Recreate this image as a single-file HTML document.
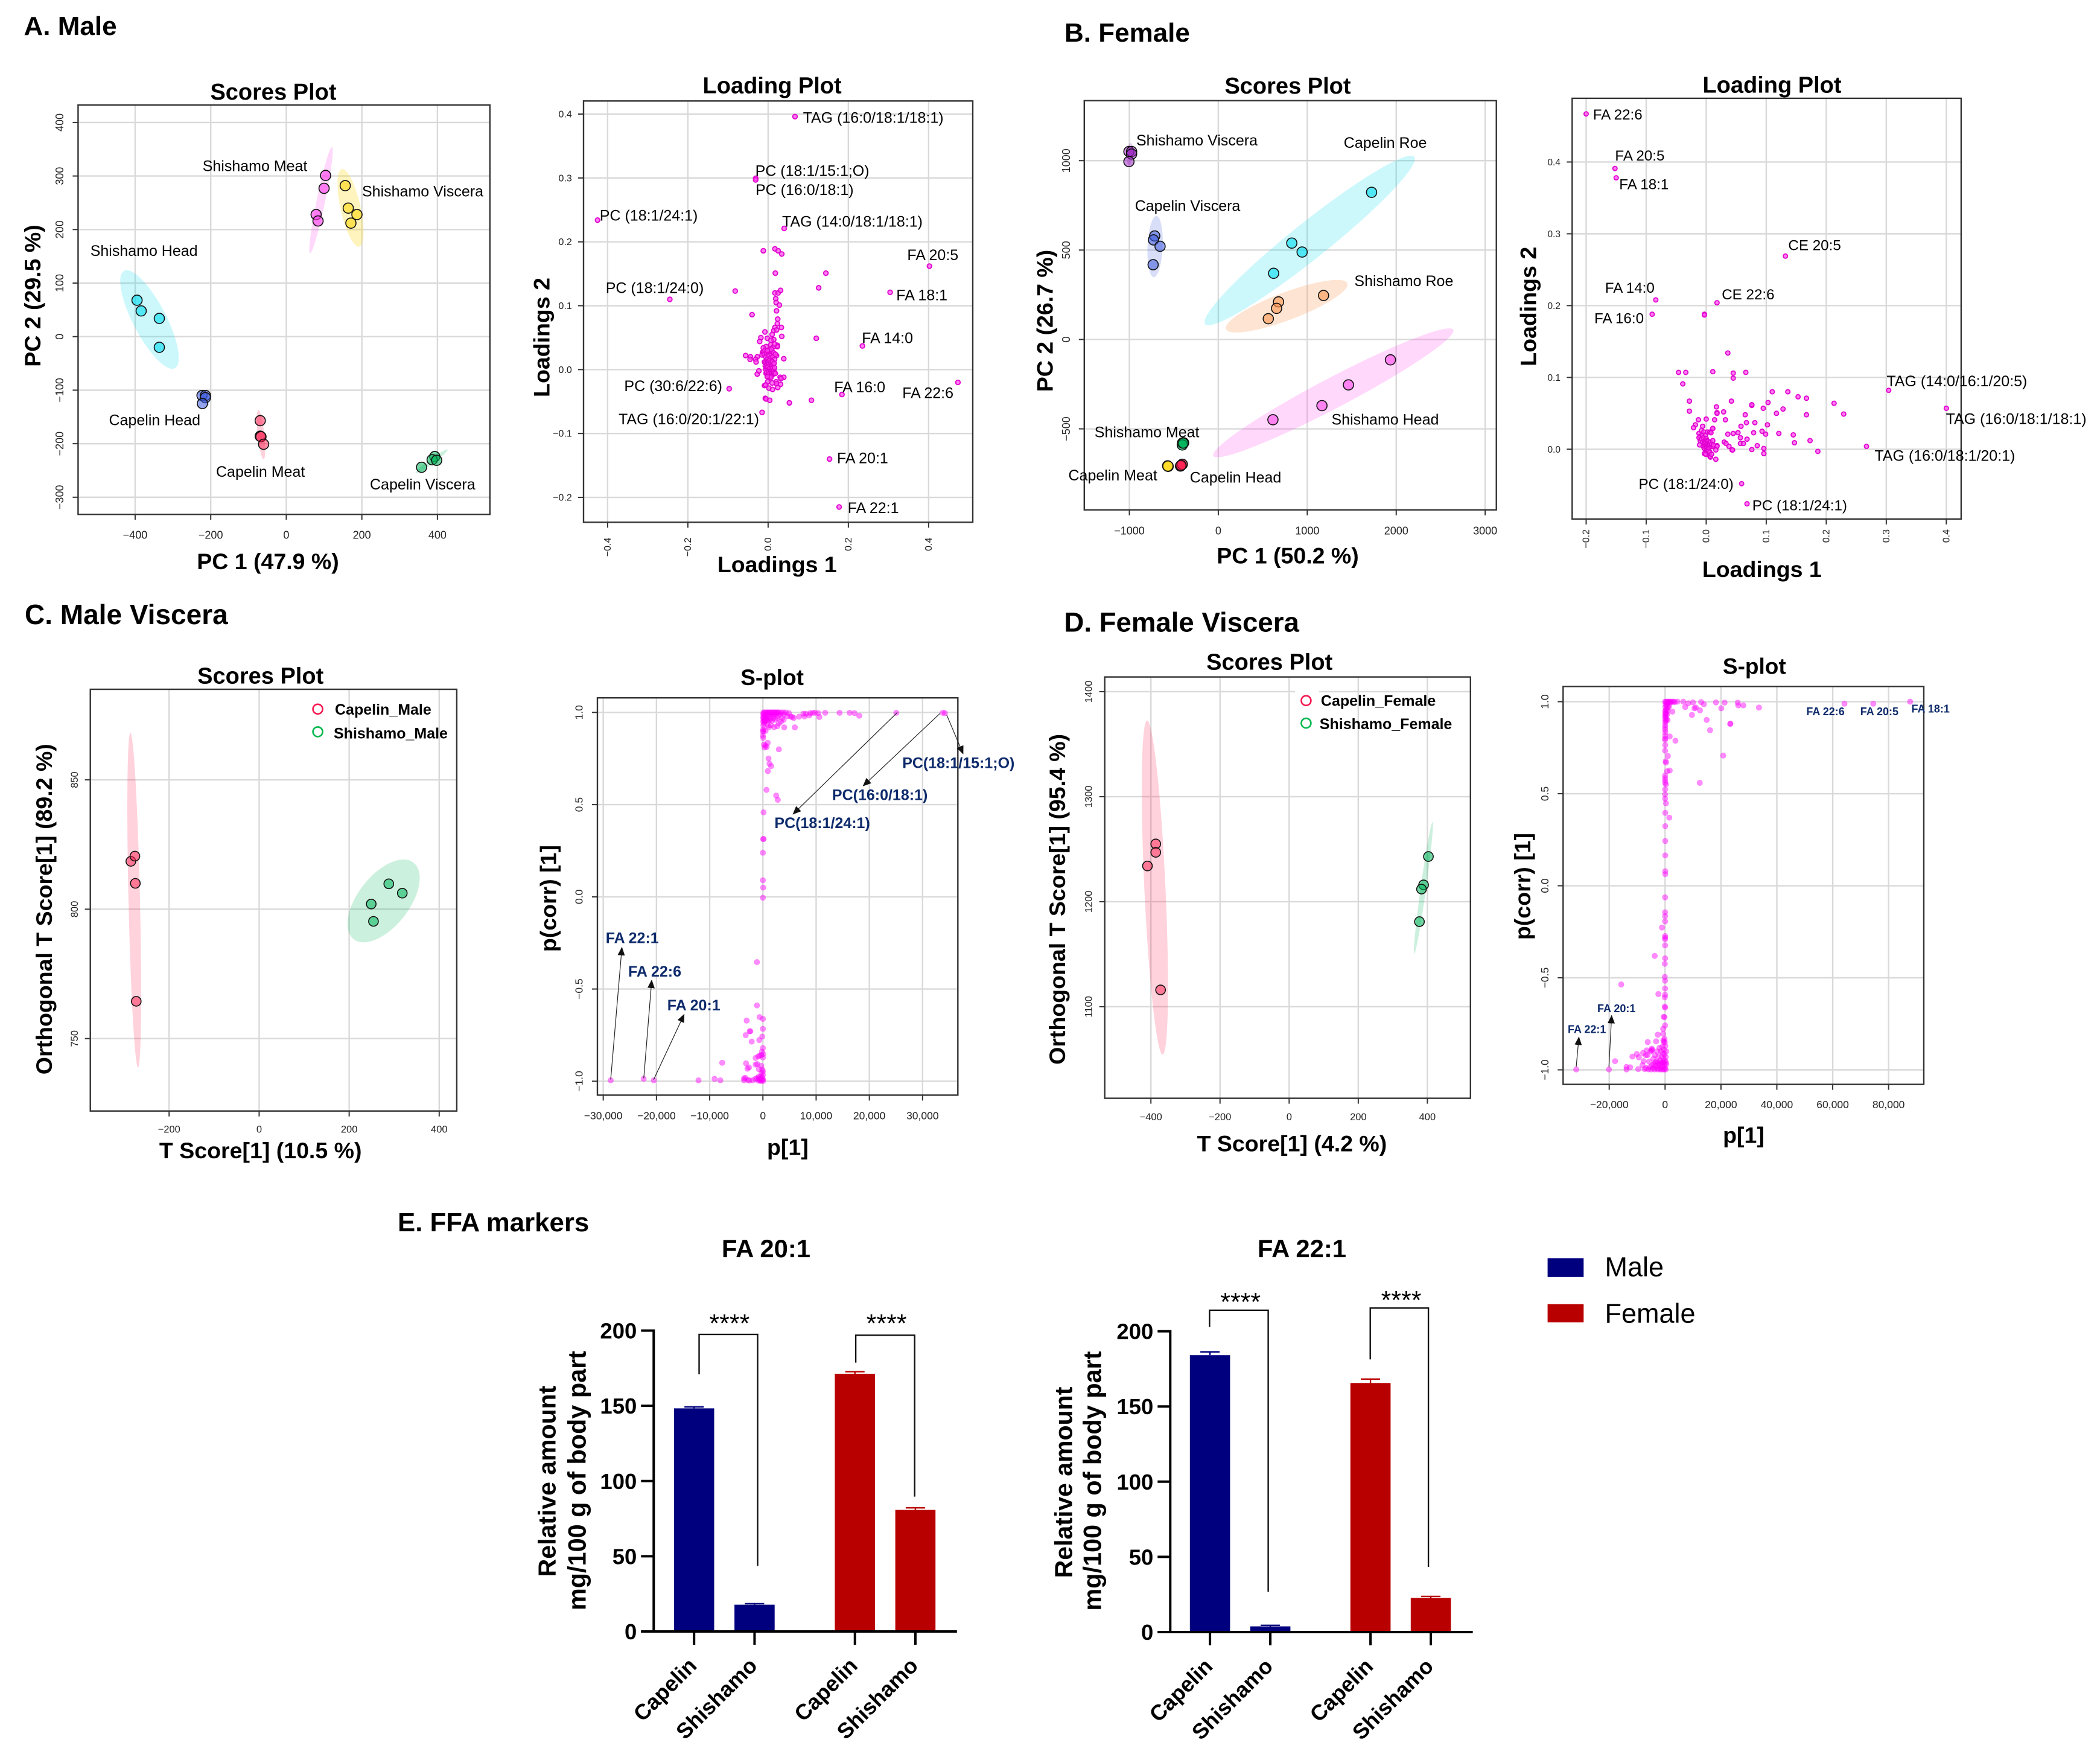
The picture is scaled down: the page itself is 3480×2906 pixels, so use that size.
<!DOCTYPE html>
<html lang="en">
<head>
<meta charset="utf-8">
<title>Lipidomics multivariate analysis of capelin and shishamo</title>
<style>
html,body{margin:0;padding:0;background:#fff;}
svg{display:block;font-family:"Liberation Sans",sans-serif;}
.panel{font-size:44px;font-weight:700;}
.title{font-size:38px;font-weight:700;text-anchor:middle;}
.axis{font-size:37.5px;font-weight:700;text-anchor:middle;}
.lab{font-size:25px;}
.labf{font-size:24.2px;}
.legend{font-size:25px;font-weight:700;}
.call{font-size:25px;font-weight:700;fill:#0d2a6b;}
.calls{font-size:18px;font-weight:700;fill:#0d2a6b;}
.arrow{stroke:#222;stroke-width:1.2;fill:none;marker-end:url(#arrowhead);}
.bracket{fill:none;stroke:#111;stroke-width:2.4;}
.stars{font-size:43px;text-anchor:middle;}
.ylab{font-size:41px;font-weight:700;text-anchor:middle;}
.btitle{font-size:41.8px;font-weight:700;text-anchor:middle;}
.bleg{font-size:45px;}
</style>
</head>
<body>
<svg id="figure" xmlns="http://www.w3.org/2000/svg" width="3480" height="2906" viewBox="0 0 3480 2906">
<defs>
<marker id="arrowhead" markerWidth="14" markerHeight="12" refX="13" refY="6" orient="auto" markerUnits="userSpaceOnUse"><path d="M0,0 L14,6 L0,12 Z" fill="#111"/></marker>
</defs>
<rect x="0" y="0" width="3480" height="2906" fill="#fff"/>
<g id="marks"></g>

<g>
<text class="panel" x="39.5" y="58">A. Male</text>
<text class="title" x="453" y="165">Scores Plot</text>
<text class="axis" x="444" y="943">PC 1 (47.9 %)</text>
<text class="axis" transform="translate(67,490) rotate(-90)">PC 2 (29.5 %)</text>
<text class="lab" x="335.7" y="283.5">Shishamo Meat</text>
<text class="lab" x="600" y="325.7">Shishamo Viscera</text>
<text class="lab" x="149.7" y="424">Shishamo Head</text>
<text class="lab" x="180.5" y="704.6">Capelin Head</text>
<text class="lab" x="358" y="790">Capelin Meat</text>
<text class="lab" x="613" y="811">Capelin Viscera</text>

<text class="title" x="1279.6" y="154.7">Loading Plot</text>
<text class="axis" x="1287.8" y="948">Loadings 1</text>
<text class="axis" transform="translate(910.5,559) rotate(-90)">Loadings 2</text>
<text class="lab" x="1330.6" y="203.5">TAG (16:0/18:1/18:1)</text>
<text class="lab" x="1251.6" y="291.3">PC (18:1/15:1;O)</text>
<text class="lab" x="1252" y="323">PC (16:0/18:1)</text>
<text class="lab" x="993.8" y="365.4">PC (18:1/24:1)</text>
<text class="lab" x="1296" y="375.7">TAG (14:0/18:1/18:1)</text>
<text class="lab" x="1503.4" y="430.8">FA 20:5</text>
<text class="lab" x="1003.7" y="485.3">PC (18:1/24:0)</text>
<text class="lab" x="1485.3" y="497.4">FA 18:1</text>
<text class="lab" x="1428.2" y="568.6">FA 14:0</text>
<text class="lab" x="1034.4" y="647.8">PC (30:6/22:6)</text>
<text class="lab" x="1382.2" y="650">FA 16:0</text>
<text class="lab" x="1495.2" y="659.3">FA 22:6</text>
<text class="lab" x="1025" y="702.9">TAG (16:0/20:1/22:1)</text>
<text class="lab" x="1387" y="767.7">FA 20:1</text>
<text class="lab" x="1404.7" y="849.8">FA 22:1</text>
</g>

<g>
<text class="panel" x="1764" y="69">B. Female</text>
<text class="title" x="2134" y="154.9">Scores Plot</text>
<text class="axis" x="2134" y="933.6">PC 1 (50.2 %)</text>
<text class="axis" transform="translate(1744.7,531.5) rotate(-90)">PC 2 (26.7 %)</text>
<text class="lab" x="1883" y="240.9">Shishamo Viscera</text>
<text class="lab" x="2226.8" y="245">Capelin Roe</text>
<text class="lab" x="1880.7" y="349.4">Capelin Viscera</text>
<text class="lab" x="2244.4" y="474">Shishamo Roe</text>
<text class="lab" x="2206.5" y="703.5">Shishamo Head</text>
<text class="lab" x="1813.8" y="724.3">Shishamo Meat</text>
<text class="lab" x="1770.5" y="796">Capelin Meat</text>
<text class="lab" x="1971.8" y="799.6">Capelin Head</text>

<text class="title" x="2936.5" y="153.3">Loading Plot</text>
<text class="axis" x="2919.8" y="955.8">Loadings 1</text>
<text class="axis" transform="translate(2545.5,507.8) rotate(-90)">Loadings 2</text>
<text class="labf" x="2639.7" y="198.2">FA 22:6</text>
<text class="labf" x="2676.4" y="266.1">FA 20:5</text>
<text class="labf" x="2683.3" y="313.3">FA 18:1</text>
<text class="labf" x="2963.4" y="414.3">CE 20:5</text>
<text class="labf" x="2659.8" y="485">FA 14:0</text>
<text class="labf" x="2853.2" y="496.2">CE 22:6</text>
<text class="labf" x="2642" y="535.5">FA 16:0</text>
<text class="lab" x="3126.4" y="639.9">TAG (14:0/16:1/20:5)</text>
<text class="lab" x="3224.6" y="702.7">TAG (16:0/18:1/18:1)</text>
<text class="lab" x="3106.4" y="763.3">TAG (16:0/18:1/20:1)</text>
<text class="labf" x="2715.5" y="809.9">PC (18:1/24:0)</text>
<text class="labf" x="2903.7" y="845.3">PC (18:1/24:1)</text>
</g>

<g>
<text class="panel" style="font-size:46px" x="41" y="1034">C. Male Viscera</text>
<text class="title" x="431.7" y="1132.4">Scores Plot</text>
<text class="axis" x="431.7" y="1918.8">T Score[1] (10.5 %)</text>
<text class="axis" transform="translate(86,1506.2) rotate(-90)">Orthogonal T Score[1] (89.2 %)</text>
<circle cx="526.6" cy="1174.8" r="8" fill="none" stroke="#f5174f" stroke-width="2.6"/>
<circle cx="526.6" cy="1212.4" r="8" fill="none" stroke="#00b84f" stroke-width="2.6"/>
<text class="legend" x="555" y="1183.9">Capelin_Male</text>
<text class="legend" x="553" y="1223.3">Shishamo_Male</text>

<text class="title" style="font-size:37px" x="1279.6" y="1134.9">S-plot</text>
<text class="axis" x="1305.4" y="1913.7">p[1]</text>
<text class="axis" transform="translate(921.4,1488.6) rotate(-90)">p(corr) [1]</text>
<line class="arrow" x1="1487" y1="1180.4" x2="1314.2" y2="1348.8"/>
<line class="arrow" x1="1557.7" y1="1182" x2="1430.4" y2="1302.1"/>
<line class="arrow" x1="1568.7" y1="1184.2" x2="1596" y2="1249"/>
<line class="arrow" x1="1012" y1="1788.7" x2="1030.6" y2="1569.8"/>
<line class="arrow" x1="1066.8" y1="1786.5" x2="1080" y2="1624"/>
<line class="arrow" x1="1083.2" y1="1788.7" x2="1133.7" y2="1680.6"/>
<text class="call" x="1495.2" y="1272.5">PC(18:1/15:1;O)</text>
<text class="call" x="1378.9" y="1325.7">PC(16:0/18:1)</text>
<text class="call" x="1283.4" y="1371.8">PC(18:1/24:1)</text>
<text class="call" x="1003.7" y="1562.7">FA 22:1</text>
<text class="call" x="1041" y="1618">FA 22:6</text>
<text class="call" x="1105.7" y="1674">FA 20:1</text>
</g>

<g>
<text class="panel" style="font-size:45.6px" x="1763.4" y="1046.3">D. Female Viscera</text>
<text class="title" x="2103.7" y="1109.7">Scores Plot</text>
<text class="axis" x="2140.9" y="1907.4">T Score[1] (4.2 %)</text>
<text class="axis" transform="translate(1764.9,1489.9) rotate(-90)">Orthogonal T Score[1] (95.4 %)</text>
<rect x="2146" y="1140" width="40" height="8" fill="#fff"/>
<circle cx="2164.4" cy="1160.7" r="8" fill="none" stroke="#f5174f" stroke-width="2.6"/>
<circle cx="2164.4" cy="1198.1" r="8" fill="none" stroke="#00b84f" stroke-width="2.6"/>
<text class="legend" x="2188.9" y="1169.6">Capelin_Female</text>
<text class="legend" x="2186.8" y="1208.2">Shishamo_Female</text>

<text class="title" style="font-size:37px" x="2907.3" y="1116.5">S-plot</text>
<text class="axis" x="2889.5" y="1893.7">p[1]</text>
<text class="axis" transform="translate(2536.1,1468.6) rotate(-90)">p(corr) [1]</text>
<line class="arrow" x1="2612" y1="1767.6" x2="2616.5" y2="1718.2"/>
<line class="arrow" x1="2666.2" y1="1767.6" x2="2670.7" y2="1682.5"/>
<text class="calls" x="2993.4" y="1185">FA 22:6</text>
<text class="calls" x="3082.7" y="1185">FA 20:5</text>
<text class="calls" x="3167.5" y="1180.7">FA 18:1</text>
<text class="calls" x="2647" y="1677">FA 20:1</text>
<text class="calls" x="2598" y="1711.6">FA 22:1</text>
</g>

<g>
<text class="panel" style="font-size:43.8px" x="659" y="2040">E. FFA markers</text>
<text class="btitle" x="1269.5" y="2083">FA 20:1</text>
<text class="ylab" transform="translate(920.6,2454) rotate(-90)">Relative amount</text>
<text class="ylab" style="font-size:41.4px" transform="translate(970.4,2453) rotate(-90)">mg/100 g of body part</text>
<path class="bracket" d="M1158.5,2277 V2210.9 H1255.5 V2594.2"/>
<path class="bracket" d="M1418.1,2257.6 V2212.1 H1515.7 V2479.6"/>
<text class="stars" x="1208.9" y="2207">****</text>
<text class="stars" x="1469.1" y="2207">****</text>

<text class="btitle" x="2157.5" y="2083">FA 22:1</text>
<text class="ylab" transform="translate(1776.3,2456) rotate(-90)">Relative amount</text>
<text class="ylab" style="font-size:41.4px" transform="translate(1824.5,2453.6) rotate(-90)">mg/100 g of body part</text>
<path class="bracket" d="M2004.4,2198.5 V2170.8 H2101.6 V2637.3"/>
<path class="bracket" d="M2270.7,2252.3 V2167.2 H2367.1 V2596"/>
<text class="stars" x="2055.7" y="2171.5">****</text>
<text class="stars" x="2322" y="2168.5">****</text>

<rect x="2564.6" y="2084.5" width="59.7" height="31.3" fill="#00007f"/>
<rect x="2564.6" y="2160.7" width="59.7" height="30.1" fill="#b90000"/>
<text class="bleg" x="2659.5" y="2114.7">Male</text>
<text class="bleg" x="2659.5" y="2191.4">Female</text>
</g>
</svg>

<script>
/* ---------- Panel A: scores ---------- */
const aScoresXTicks = [-400, -200, 0, 200, 400];
const aScoresYTicks = [-300, -200, -100, 0, 100, 200, 300, 400];
const aShishamoMeat = [[104,301],[100,277],[79,228],[84,216]];
const aShishamoViscera = [[156,282],[164,240],[187,228],[171,212]];
const aShishamoHead = [[-395,68],[-384,48],[-336,34],[-336,-20]];
const aCapelinHead = [[-223,-110],[-214,-110],[-214,-114],[-222,-125]];
const aCapelinMeat = [[-69,-157],[-69,-186],[-67,-187],[-60,-201]];
const aCapelinViscera = [[358,-244],[393,-224],[386,-230],[398,-231]];
const aShishamoMeatTips = [[121,354],[63,156]];
const aShishamoVisceraTips = [[147,313],[193,168]];
const aShishamoHeadTips = [[-429,123],[-295,-59]];
const aCapelinHeadTips = [[-232,-103],[-206,-128]];
const aCapelinMeatTips = [[-74,-137],[-60,-229]];
const aCapelinVisceraTips = [[427,-211],[342,-255]];

/* ---------- Panel A: loadings ---------- */
const aLoadingXTicks = [-0.4, -0.2, 0, 0.2, 0.4];
const aLoadingYTicks = [-0.2, -0.1, 0, 0.1, 0.2, 0.3, 0.4];
const aLoadings = [[.067,.396],[-.031,.2995],[-.031,.297],[-.425,.234],[.040,.221],[-.012,.186],[.017,.189],[.025,.186],[.034,.181],[.018,.151],[.144,.151],[.126,.128],[-.082,.123],[-.245,.110],[.402,.162],[.304,.121],[.017,.12],[.025,.12],[.031,.124],[.019,.111],[.02,.105],[.028,.101],[.021,.092],[-.04,.086],[.024,.079],[.023,.072],[.033,.066],[.017,.066],[.014,.061],[.021,.062],[-.008,.059],[.034,.052],[.01,.055],[.12,.049],[-.018,.05],[-.002,.049],[.014,.047],[-.021,.044],[.007,.046],[.235,.037],[.023,.038],[.007,.039],[-.005,.036],[-.012,.034],[.023,.036],[-.014,.027],[-.056,.022],[-.044,.02],[-.027,.02],[-.015,.023],[.021,.022],[.039,.017],[-.045,.016],[-.031,.016],[-.03,.012],[-.027,-.007],[-.023,-.002],[.03,-.012],[.039,-.012],[.032,-.014],[-.001,-.019],[.01,-.021],[.02,-.019],[.021,-.022],[.031,-.023],[-.009,-.025],[-.006,-.024],[.002,-.029],[.024,-.028],[.011,-.031],[-.097,-.03],[.184,-.039],[.473,-.02],[-.007,-.045],[-.005,-.046],[.004,-.048],[.053,-.052],[.108,-.048],[-.015,-.067],[.153,-.14],[.177,-.215],
[-.012,.028],[-.01,.024],[-.008,.03],[-.006,.02],[-.004,.026],[-.002,.016],[0,.028],[.002,.022],[.004,.03],[.006,.018],[.008,.024],[.01,.028],[.012,.02],[.014,.026],[.016,.016],[.018,.024],[-.009,.012],[-.007,.006],[-.005,.012],[-.003,.008],[-.001,.012],[.001,.01],[.003,.014],[.005,.008],[.007,.012],[.009,.006],[.011,.012],[.013,.008],[.015,.01],[-.006,0],[-.004,.004],[-.002,0],[0,.004],[.002,-.002],[.004,.002],[.006,-.002],[.008,.002],[.01,-.002],[.012,.002],[.014,-.001],[.016,.003],[-.005,-.006],[-.003,-.004],[-.001,-.008],[.001,-.005],[.003,-.009],[.005,-.006],[.007,-.01],[.009,-.006],[.011,-.008],[.013,-.006],[.015,-.005],[.018,-.006],[.001,-.012],[.004,-.013],[.007,-.012],[-.002,-.011],[.012,.035],[.016,.04],[.008,.032],[-.002,.03]];

/* ---------- Panel B: scores ---------- */
const bScoresXTicks = [-1000, 0, 1000, 2000, 3000];
const bScoresYTicks = [-500, 0, 500, 1000];
const bShishamoViscera = [[-1005,1051],[-975,1051],[-975,1037],[-1005,995]];
const bCapelinViscera = [[-715,579],[-729,557],[-655,521],[-733,418]];
const bCapelinRoe = [[1723,823],[826,539],[942,489],[622,370]];
const bShishamoRoe = [[1183,246],[677,210],[655,174],[562,116]];
const bShishamoHead = [[1935,-114],[1463,-254],[1165,-370],[614,-449]];
const bShishamoMeat = [[-402,-579],[-390,-578],[-405,-590],[-395,-580]];
const bCapelinHead = [[-417,-703],[-425,-708],[-405,-698],[-420,-705]];
const bCapelinMeat = [[-566,-709],[-570,-707],[-564,-710],[-567,-708]];
const bCapelinRoeTips = [[2203,1021],[-149,86]];
const bShishamoRoeTips = [[1451,314],[86,58]];
const bShishamoHeadTips = [[2642,54],[-56,-651]];
const bCapelinVisceraTips = [[-696,691],[-726,348]];
const bShishamoVisceraTips = [[-986,1099],[-1005,975]];

/* ---------- Panel B: loadings ---------- */
const bLoadingXTicks = [-0.2, -0.1, 0, 0.1, 0.2, 0.3, 0.4];
const bLoadingYTicks = [0, 0.1, 0.2, 0.3, 0.4];
const bLoadings = [[-.2,.467],[-.152,.391],[-.15,.378],[.132,.269],[-.084,.208],[.018,.204],[-.09,.188],[-.003,.188],[-.003,.187],[.036,.134],[-.046,.107],[-.034,.107],[.011,.108],[.045,.106],[.066,.107],[.045,.099],[-.039,.091],[.304,.082],[.11,.08],[.136,.08],[.153,.073],[.167,.071],[.042,.067],[-.028,.067],[.076,.061],[.076,.062],[.103,.065],[.213,.064],[.4,.057],[.017,.059],[.095,.057],[.128,.056],[-.028,.053],[.029,.052],[.018,.051],[.018,.05],[.117,.05],[.229,.049],[.065,.048],[.167,.048],[-.013,.041],[0,.042],[.014,.041],[.032,.041],[.067,.037],[.081,.037],[-.018,.034],[.102,.034],[.058,.032],[-.021,.03],[-.006,.032],[.011,.029],[.093,.025],[.053,.023],[.045,.022],[.036,.021],[.079,.023],[.121,.022],[.099,.021],[.145,.02],[.057,.016],[.068,.014],[.173,.012],[.147,.009],[.03,.01],[.033,.008],[.057,.008],[.062,.008],[.038,.004],[.085,.005],[.267,.004],[.096,.001],[.076,-.0005],[.043,-.001],[.044,-.001],[.186,-.003],[.096,-.006],[.018,.005],[.018,.004],[.016,-.001],[.016,-.014],[.007,-.011],[0,-.007],[.059,-.048],[.068,-.076],
[-.012,.022],[-.01,.018],[-.012,.016],[-.01,.012],[-.011,.006],[-.008,.026],[-.008,.014],[-.006,.02],[-.006,.01],[-.005,.004],[-.004,.024],[-.004,.016],[-.003,.008],[-.003,.001],[-.002,.012],[-.002,.005],[-.001,.02],[-.001,.01],[0,.015],[0,.006],[0,.001],[0,-.003],[.001,.012],[.001,.003],[.001,-.005],[.002,.024],[.002,.008],[.002,-.001],[.003,.011],[.003,.004],[.004,.006],[.004,-.002],[.004,-.008],[.005,.009],[.005,.002],[.006,.024],[.006,.006],[.006,-.004],[.007,.01],[.007,-.01],[.008,.004],[.009,.007],[.009,-.007],[.011,.012],[.011,.004],[-.003,-.006],[-.001,-.007],[.008,.023],[.011,.029],[.012,.006]];

/* ---------- Panel C: scores ---------- */
const cScoresXTicks = [-200, 0, 200, 400];
const cScoresYTicks = [750, 800, 850];
const cCapelin = [[-285,818.5],[-276,820.5],[-275,810],[-273,764.4]];
const cShishamo = [[288,809.8],[318,806.2],[249,802],[254,795.3]];
const cCapelinTips = [[-286,868.2],[-269,738.8]];
const cShishamoTips = [[343,818],[210,788.4]];

/* ---------- Panel C: S-plot (p[1] in thousands) ---------- */
const cSplotXTicks = [-30, -20, -10, 0, 10, 20, 30];
const cSplotXTickLabels = ['\u221230,000','\u221220,000','\u221210,000','0','10,000','20,000','30,000'];
const cSplotYTicks = [-1, -0.5, 0, 0.5, 1];
const cSplotPoints = [[25.06,.998],[33.8,.998],[34.2,.996],[18.1,.982],[17.2,.996],[16.3,.998],[14.4,.998],[11.7,.998],[10.6,.975],[10.4,.996],[9.8,.998],[9.4,.998],[8.9,.996],[8.7,.984],[8.1,.993],[7.8,.978],[7.6,.993],[6.8,.977],[6,.919],[5.8,.97],[5.5,.975],[4.9,.996],[5.2,.978],[4,.919],[3.9,.96],
[.1,1],[.2,.99],[.3,1],[.4,.98],[.5,1],[.6,.99],[.7,.97],[.8,1],[.9,.99],[1,1],[1.1,.98],[1.2,1],[1.3,.99],[1.4,1],[1.5,.97],[1.6,1],[1.7,.99],[1.8,1],[1.9,.98],[2,1],[2.1,.99],[2.2,1],[2.3,.96],[2.4,1],[2.5,.99],[2.6,1],[2.7,.97],[2.8,1],[2.9,.98],[3,1],[3.2,.99],[3.4,1],[3.6,.97],[3.8,1],[4,.99],[4.3,1],[4.6,.98],
[.05,.99],[.05,.97],[.05,.95],[.08,.93],[.15,.96],[.2,.94],[.1,.975],[.25,.955],[.3,.975],[.35,.95],[.45,.965],[.55,.955],[.6,.975],[.8,.96],[1,.955],[1.3,.96],[1.7,.955],[2,.97],[.05,.908],[.1,.9],[0,.895],[.5,.9],[.9,.93],[1.1,.92],[1.5,.93],[2.1,.92],[2.7,.925],[3,.94],[3.4,.95],
[0,.874],[.06,.862],[.2,.826],[.5,.82],[.9,.835],[.7,.813],[.3,.81],[3,.8],[1.06,.75],[1.24,.722],[1.55,.709],[.93,.682],[.68,.58],[2.49,.549],[2.8,.526],[.12,.458],[.12,.314],[.06,.313],[0,.239],[0,.09],[.06,.05],[0,-.005],
[-1.12,-.354],[-1.12,-.589],[-.62,-.652],[0,-.662],[-3.05,-.671],[0,-.716],[-2.36,-.729],[-2.48,-.729],[-3.23,-.75],[-.12,-.758],[-.68,-.777],[-2.11,-.785],[0,-.82],[-.19,-.84],[.06,-.853],[-.31,-.858],[-.87,-.865],[-1.37,-.874],[-.56,-.862],[0,-.871],[-7.65,-.9],[-3.17,-.903],[-1.06,-.907],[-1.37,-.91],[-.31,-.916],[-2.61,-.925],[-2.9,-.932],[-.75,-.935],[-.12,-.937],[0,-.946],[-.25,-.955],[0,-.966],
[-28.6,-.995],[-22.4,-.987],[-20.5,-.995],[-12.1,-.995],[-9.08,-.987],[-8,-.995],[-3.54,-.984],[-3.3,-.982],[-3.54,-.995],[-2.8,-.993],[-2.55,-.996],[-1.92,-.995],[-1.42,-.987],[-1.06,-.984],[-.8,-.975],[-.56,-.993],[-.9,-.996],[-.7,-.985],[-.5,-.998],[-.4,-.975],[-.3,-.99],[-.2,-.998],[-.1,-.98],[0,-.99],[.05,-.998]];

/* ---------- Panel D: scores ---------- */
const dScoresXTicks = [-400, -200, 0, 200, 400];
const dScoresYTicks = [1100, 1200, 1300, 1400];
const dCapelin = [[-386,1255],[-386,1247],[-410,1234],[-372,1116]];
const dShishamo = [[403,1243],[389,1216],[383,1212],[377,1181]];
const dCapelinTips = [[-411,1372.5],[-366,1054.4]];
const dShishamoTips = [[415,1276],[362,1150.6]];

/* ---------- Panel D: S-plot (p[1] in thousands) ---------- */
const dSplotXTicks = [-20, 0, 20, 40, 60, 80];
const dSplotXTickLabels = ['\u221220,000','0','20,000','40,000','60,000','80,000'];
const dSplotYTicks = [-1, -0.5, 0, 0.5, 1];
const dSplotPoints = [[87.7,1],[74.5,.989],[64.2,.989],[33.6,.968],[28,.98],[26.2,.98],[26,.995],[21.3,.995],[20.1,.964],[18.2,.996],[16.1,.845],[14.9,.901],[13.9,.986],[12.9,.998],[12.5,.953],[11,.968],[10.5,.964],[10,.996],[9.6,.928],[8.3,.991],[7.2,.971],[6.5,1],[4.4,1],[23.4,.881],[23.3,.879],[20.8,.707],[12.4,.559],[3.7,.788],[1.65,.811],[2.6,.946],
[0,1],[.3,.998],[.6,1],[.9,.995],[1.2,1],[1.5,.998],[1.8,1],[2.1,.996],[2.5,1],[3,1],[3.5,.998],[.2,.985],[.5,.98],[.8,.985],[1.1,.97],[1.4,.975],[.1,.97],[.3,.955],[.6,.96],[.9,.95],[.1,.94],[.4,.935],[.7,.93],[.2,.92],[.5,.905],[.9,.9],[.15,.895],
[.05,.95],[.1,.932],[0,.919],[.05,.905],[.1,.887],[0,.872],[.05,.86],[0,.847],[.1,.833],[0,.815],[.05,.8],[0,.793],[.05,.764],[0,.734],[1,.705],[.2,.676],[.3,.669],[1.65,.626],[.7,.622],[0,.599],[0,.585],[0,.572],[.05,.559],[.3,.55],[0,.523],[0,.496],[0,.473],[.3,.448],[.05,.396],[1.5,.37],[.05,.324],[.05,.243],[.05,.165],[.05,.079],[.05,.063],[0,-.063],[0,-.144],[0,-.165],[0,-.194],[-1.1,-.227],[0,-.273],[0,-.282],[0,-.291],[0,-.324],[0,-.394],[-3.7,-.381],[-.1,-.424],[-.1,-.495],[0,-.516],[0,-.558],[-2.4,-.588],[0,-.592],[-.1,-.606],[-.1,-.656],[0,-.662],[-.5,-.712],[-.2,-.714],[0,-.759],[-.7,-.777],[-.7,-.804],[-2.6,-.809],[-.2,-.831],[-.6,-.84],[-.5,-.848],
[-31.8,-.998],[-20.1,-.998],[-17.9,-.953],[-15.7,-.536],[-13.8,-.984],[-13.8,-.998],[-12.5,-.986],[-11.7,-.928],[-10.1,-.914],[-9.4,-.932],[-9.6,-.996],[-7.9,-.908],[-7.7,-.953],[-8.1,-.975],[-7.3,-.996],
[-6.2,-.849],[-3.2,-.845],[-4.8,-.885],[-6.6,-.894],[-6.9,-.921],
[-6.8,-.99],[-6,-.997],[-5.4,-.985],[-5,-.998],[-4.6,-.975],[-4.2,-.99],[-3.8,-.998],[-3.4,-.98],[-3,-.99],[-2.6,-.998],[-2.3,-.975],[-2,-.99],[-1.7,-.998],[-1.5,-.97],[-1.2,-.985],[-1,-.998],[-.8,-.96],[-.6,-.985],[-.4,-.998],[-.2,-.97],[0,-.99],[.2,-.998],[.4,-.97],
[-5.2,-.9],[-4.6,-.89],[-4.8,-.895],[-6.3,-.92],[-5.7,-.955],[-4.2,-.94],[-3.6,-.92],[-3.2,-.955],[-2.8,-.9],[-2.4,-.93],[-2,-.88],[-1.8,-.95],[-1.5,-.9],[-1.2,-.93],[-1,-.875],[-.8,-.91],[-.6,-.94],[-.4,-.89],[-.2,-.915],[0,-.95],[.2,-.93],[.4,-.9],[.3,-.96],[-.1,-.85],[.1,-.87],[-3.5,-.96],[-4,-.97],[-2.5,-.96],[-2,-.965],[-1,-.96],[-.5,-.96]];

/* ---------- Panel E: bars ---------- */
const barCategories = ['Capelin','Shishamo','Capelin','Shishamo'];
const barSexes = ['male','male','female','female'];
const barYTicks = [0, 50, 100, 150, 200];
const fa201Values = [148.3, 17.8, 171.3, 80.8];
const fa201Errors = [1.0, 0.7, 1.4, 1.4];
const fa221Values = [184.1, 3.8, 165.6, 22.7];
const fa221Errors = [2.2, 0.7, 2.6, 1.0];

const NS = 'http://www.w3.org/2000/svg';
const root = document.getElementById('marks');
function mk(tag, attrs, parent) {
  const el = document.createElementNS(NS, tag);
  for (const k in attrs) el.setAttribute(k, attrs[k]);
  (parent || root).appendChild(el);
  return el;
}
function fmt(v) {
  return String(v).replace('-', '\u2212');
}
function fmt1(v) {
  return v.toFixed(1).replace('-', '\u2212');
}

function drawPlot(cfg) {
  const g = mk('g', {});
  
  
  const [x0, y0, x1, y1] = cfg.box;
  const x = v => x0 + (v - cfg.xDom[0]) / (cfg.xDom[1] - cfg.xDom[0]) * (x1 - x0);
  const y = v => y0 + (cfg.yDom[1] - v) / (cfg.yDom[1] - cfg.yDom[0]) * (y1 - y0);
  cfg.xTicks.forEach(function (t, i) {
    const grid = mk('line', {x1: x(t), x2: x(t), y1: y0, y2: y1, stroke: '#d9d9d9', 'stroke-width': 2.4}, g);
    
    
    const tick = mk('line', {x1: x(t), x2: x(t), y1: y1, y2: y1 + 9, stroke: '#333', 'stroke-width': 2}, g);
    
    
    const label = cfg.xLabels ? cfg.xLabels[i] : (cfg.xDec ? fmt1(t) : fmt(t));
    let tx;
    if (cfg.xRot) {
      tx = mk('text', {transform: 'translate(' + (x(t) + 5) + ',' + cfg.xTickY + ') rotate(-90)', 'font-size': cfg.xFont, 'text-anchor': 'end', fill: '#222'}, g);
    } else {
      tx = mk('text', {x: x(t), y: cfg.xTickY, 'font-size': cfg.xFont, 'text-anchor': 'middle', fill: '#222'}, g);
    }
    
    
    tx.textContent = label;
  });
  cfg.yTicks.forEach(function (t) {
    const grid = mk('line', {x1: x0, x2: x1, y1: y(t), y2: y(t), stroke: '#d9d9d9', 'stroke-width': 2.4}, g);
    
    
    const tick = mk('line', {x1: x0 - 9, x2: x0, y1: y(t), y2: y(t), stroke: '#333', 'stroke-width': 2}, g);
    
    
    const label = cfg.yDec ? fmt1(t) : fmt(t);
    let tx;
    if (cfg.yRot) {
      tx = mk('text', {transform: 'translate(' + cfg.yTickX + ',' + y(t) + ') rotate(-90)', 'font-size': cfg.yFont, 'text-anchor': 'middle', fill: '#222'}, g);
    } else {
      tx = mk('text', {x: cfg.yTickX, y: y(t) + 5.5, 'font-size': cfg.yFont, 'text-anchor': 'end', fill: '#222'}, g);
    }
    
    
    tx.textContent = label;
  });
  const frame = mk('rect', {x: x0, y: y0, width: x1 - x0, height: y1 - y0, fill: 'none', stroke: '#333', 'stroke-width': 2.4}, g);
  
  
  return {g, x, y};
}

function drawEllipse(plot, tips, width, color) {
  const ax = plot.x(tips[0][0]), ay = plot.y(tips[0][1]);
  const bx = plot.x(tips[1][0]), by = plot.y(tips[1][1]);
  const cx = (ax + bx) / 2, cy = (ay + by) / 2;
  const rx = Math.hypot(bx - ax, by - ay) / 2;
  const ang = Math.atan2(by - ay, bx - ax) * 180 / Math.PI;
  const e = mk('ellipse', {cx: cx, cy: cy, rx: rx, ry: width / 2, fill: color, transform: 'rotate(' + ang + ' ' + cx + ' ' + cy + ')'}, plot.g);
  
  
}
function drawScores(plot, pts, color, r) {
  pts.forEach(function (p) {
    const c = mk('circle', {cx: plot.x(p[0]), cy: plot.y(p[1]), r: r, fill: color, stroke: '#111', 'stroke-width': 1.6}, plot.g);
    
    
  });
}
function drawLoadings(plot, pts, r) {
  pts.forEach(function (p) {
    const c = mk('circle', {cx: plot.x(p[0]), cy: plot.y(p[1]), r: r, fill: 'rgba(255,70,235,.7)', stroke: '#e000d0', 'stroke-width': 1.8}, plot.g);
    
    
  });
}
function drawSplot(plot, pts) {
  pts.forEach(function (p) {
    const c = mk('circle', {cx: plot.x(p[0]), cy: plot.y(p[1]), r: 4.6, fill: 'rgba(255,0,255,.45)', stroke: 'rgba(255,0,255,.25)', 'stroke-width': 1}, plot.g);
    
    
  });
}

const CY = 'rgba(0,220,240,', YE = 'rgba(255,220,40,', MA = 'rgba(255,60,235,', BL = 'rgba(60,90,220,', RE = 'rgba(255,30,80,', GR = 'rgba(0,180,90,', OR = 'rgba(250,150,80,', PU = 'rgba(150,30,190,';

/* Panel A scores */
const pA1 = drawPlot({name: 'a-scores-plot', box: [129.4, 173.9, 811.8, 852.2], xDom: [-551, 538.8], yDom: [-332, 432.7], xTicks: aScoresXTicks, yTicks: aScoresYTicks, xFont: 18, yFont: 18, xTickY: 892.6, yTickX: 105, yRot: true});
drawEllipse(pA1, aShishamoHeadTips, 55, CY + '.2)');
drawEllipse(pA1, aShishamoMeatTips, 14, MA + '.2)');
drawEllipse(pA1, aShishamoVisceraTips, 33, YE + '.3)');
drawEllipse(pA1, aCapelinHeadTips, 8, BL + '.2)');
drawEllipse(pA1, aCapelinMeatTips, 11, RE + '.2)');
drawEllipse(pA1, aCapelinVisceraTips, 8, GR + '.2)');
drawScores(pA1, aShishamoHead, CY + '.6)', 8.5);
drawScores(pA1, aShishamoMeat, MA + '.6)', 8.5);
drawScores(pA1, aShishamoViscera, YE + '.7)', 8.5);
drawScores(pA1, aCapelinHead, BL + '.55)', 8.5);
drawScores(pA1, aCapelinMeat, RE + '.5)', 8.5);
drawScores(pA1, aCapelinViscera, GR + '.55)', 8.5);

/* Panel A loadings */
const pA2 = drawPlot({name: 'a-loading-plot', box: [967, 167.3, 1612, 865.3], xDom: [-0.46, 0.51], yDom: [-0.239, 0.4205], xTicks: aLoadingXTicks, yTicks: aLoadingYTicks, xFont: 16, yFont: 16, xTickY: 890.6, yTickX: 947.8, xRot: true, xDec: true, yDec: true});
drawLoadings(pA2, aLoadings, 3.8);

/* Panel B scores */
const pB1 = drawPlot({name: 'b-scores-plot', box: [1796.8, 166.8, 2479.7, 844.7], xDom: [-1507, 3126], yDom: [-953, 1335.6], xTicks: bScoresXTicks, yTicks: bScoresYTicks, xFont: 18, yFont: 18, xTickY: 885.6, yTickX: 1773, yRot: true});
drawEllipse(pB1, bCapelinRoeTips, 60, CY + '.2)');
drawEllipse(pB1, bShishamoRoeTips, 46, OR + '.25)');
drawEllipse(pB1, bShishamoHeadTips, 50, MA + '.2)');
drawEllipse(pB1, bCapelinVisceraTips, 25, BL + '.2)');
drawEllipse(pB1, bShishamoVisceraTips, 11, PU + '.2)');
drawScores(pB1, bCapelinRoe, CY + '.6)', 8.5);
drawScores(pB1, bShishamoRoe, OR + '.6)', 8.5);
drawScores(pB1, bShishamoHead, MA + '.55)', 8.5);
drawScores(pB1, bCapelinViscera, BL + '.55)', 8.5);
drawScores(pB1, bShishamoViscera, PU + '.5)', 8.5);
drawScores(pB1, bShishamoMeat, GR + '.6)', 8.5);
drawScores(pB1, bCapelinHead, RE + '.55)', 8.5);
drawScores(pB1, bCapelinMeat, YE + '.7)', 8.5);

/* Panel B loadings */
const pB2 = drawPlot({name: 'b-loading-plot', box: [2605.3, 162.9, 3249.9, 859.9], xDom: [-0.2233, 0.4247], yDom: [-0.0972, 0.4887], xTicks: bLoadingXTicks, yTicks: bLoadingYTicks, xFont: 16, yFont: 15.5, xTickY: 877, yTickX: 2586, xRot: true, xDec: true, yDec: true});
drawLoadings(pB2, bLoadings, 3.6);

/* Panel C scores */
const pC1 = drawPlot({name: 'c-scores-plot', box: [149.7, 1142, 756.9, 1840.7], xDom: [-375, 439], yDom: [722, 885], xTicks: cScoresXTicks, yTicks: cScoresYTicks, xFont: 16.5, yFont: 16.5, xTickY: 1876.4, yTickX: 129, yRot: true});
drawEllipse(pC1, cCapelinTips, 19, RE + '.2)');
drawEllipse(pC1, cShishamoTips, 85, GR + '.2)');
drawScores(pC1, cCapelin, RE + '.5)', 8);
drawScores(pC1, cShishamo, GR + '.55)', 8);

/* Panel C S-plot */
const pC2 = drawPlot({name: 'c-s-plot', box: [990, 1156.2, 1587.3, 1814.4], xDom: [-31.095, 36.629], yDom: [-1.0754, 1.079], xTicks: cSplotXTicks, xLabels: cSplotXTickLabels, yTicks: cSplotYTicks, xFont: 17.5, yFont: 17.5, xTickY: 1854.5, yTickX: 965.3, yRot: true, yDec: true});
drawSplot(pC2, cSplotPoints);

/* Panel D scores */
const pD1 = drawPlot({name: 'd-scores-plot', box: [1830.7, 1121.6, 2436.8, 1819.6], xDom: [-533.6, 524.7], yDom: [1012.8, 1414], xTicks: dScoresXTicks, yTicks: dScoresYTicks, xFont: 16.5, yFont: 16.5, xTickY: 1855.8, yTickX: 1809.3, yRot: true});
drawEllipse(pD1, dCapelinTips, 35, RE + '.2)');
drawEllipse(pD1, dShishamoTips, 9, GR + '.2)');
drawScores(pD1, dCapelin, RE + '.5)', 8);
drawScores(pD1, dShishamo, GR + '.55)', 8);

/* Panel D S-plot */
const pD2 = drawPlot({name: 'd-s-plot', box: [2590.3, 1137.3, 3188, 1796.6], xDom: [-36.5, 92.6], yDom: [-1.079, 1.0827], xTicks: dSplotXTicks, xLabels: dSplotXTickLabels, yTicks: dSplotYTicks, xFont: 17.5, yFont: 17.5, xTickY: 1836, yTickX: 2566, yRot: true, yDec: true});
drawSplot(pD2, dSplotPoints);

/* Panel E bars */
function drawBars(cfg) {
  const g = mk('g', {});
  
  
  const x = i => cfg.x0 + (i + (i >= 2 ? 0.66 : 0)) * cfg.step;
  const y = v => cfg.y0 - v * cfg.unit;
  const colour = {male: '#00007f', female: '#b90000'};
  cfg.values.forEach(function (v, i) {
    const c = colour[barSexes[i]];
    const stem = mk('line', {x1: x(i), x2: x(i), y1: y(v), y2: y(v + cfg.errors[i]), stroke: c, 'stroke-width': 2.4}, g);
    
    
    const cap = mk('line', {x1: x(i) - 16, x2: x(i) + 16, y1: y(v + cfg.errors[i]), y2: y(v + cfg.errors[i]), stroke: c, 'stroke-width': 2.4}, g);
    
    
    const bar = mk('rect', {x: x(i) - 33.3, y: y(v), width: 66.6, height: cfg.y0 - y(v), fill: c}, g);
    
    
    const tick = mk('line', {x1: x(i), x2: x(i), y1: cfg.y0, y2: cfg.y0 + 22, stroke: '#000', 'stroke-width': 4}, g);
    
    
    const lab = mk('text', {transform: 'translate(' + (x(i) + 6.5) + ',' + (cfg.y0 + 59) + ') rotate(-45)', 'font-size': 36, 'font-weight': 700, 'text-anchor': 'end'}, g);
    
    
    lab.textContent = barCategories[i];
  });
  barYTicks.forEach(function (t) {
    const tick = mk('line', {x1: cfg.axisX - 21, x2: cfg.axisX, y1: y(t), y2: y(t), stroke: '#000', 'stroke-width': 4}, g);
    
    
    const lab = mk('text', {x: cfg.axisX - 28, y: y(t) + 13, 'font-size': 36.5, 'font-weight': 700, 'text-anchor': 'end'}, g);
    
    
    lab.textContent = t;
  });
  const yAxis = mk('line', {x1: cfg.axisX, x2: cfg.axisX, y1: y(200) - 2, y2: cfg.y0 + 2, stroke: '#000', 'stroke-width': 4}, g);
  
  
  const xAxis = mk('line', {x1: cfg.axisX - 21, x2: cfg.axisEnd, y1: cfg.y0, y2: cfg.y0, stroke: '#000', 'stroke-width': 4}, g);
  
  
}
drawBars({name: 'fa-20-1-bars', values: fa201Values, errors: fa201Errors, x0: 1150.2, step: 100.2, y0: 2703, unit: 2.4925, axisX: 1083.3, axisEnd: 1585.8});
drawBars({name: 'fa-22-1-bars', values: fa221Values, errors: fa221Errors, x0: 2005.1, step: 100, y0: 2704, unit: 2.492, axisX: 1939.3, axisEnd: 2440.6});
</script>
</body>
</html>
